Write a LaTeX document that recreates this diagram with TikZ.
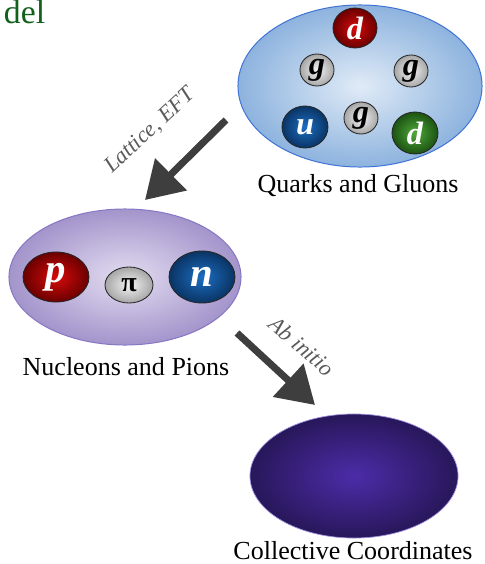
\documentclass[tikz,border=0pt]{standalone}
\usepackage{fontspec}
\setmainfont{Liberation Serif}
\usepackage{tikz}
\usetikzlibrary{arrows.meta,shapes.geometric}
\definecolor{TitleGreen}{HTML}{12601A}
\definecolor{QBorder}{HTML}{3F72D6}
\definecolor{QIn}{HTML}{E0EBF7}
\definecolor{QOut}{HTML}{8DB3DE}
\definecolor{NBorder}{HTML}{8676C4}
\definecolor{NIn}{HTML}{E4DDF1}
\definecolor{NOut}{HTML}{A394CB}
\definecolor{CBorder}{HTML}{A090E0}
\definecolor{CIn}{HTML}{4C2CA8}
\definecolor{COut}{HTML}{28175A}
\definecolor{RedIn}{HTML}{D80A0A}
\definecolor{RedOut}{HTML}{6A0000}
\definecolor{BlueIn}{HTML}{1C6EC2}
\definecolor{BlueOut}{HTML}{0A3464}
\definecolor{GreenIn}{HTML}{4EAA3A}
\definecolor{GreenOut}{HTML}{1C5212}
\definecolor{GluIn}{HTML}{F4F4F4}
\definecolor{GluOut}{HTML}{A6A6A6}
\definecolor{ArrowGray}{HTML}{3E3E3E}
\definecolor{ViaGray}{HTML}{5A5A5A}

\begin{document}
\begin{tikzpicture}[x=0.025cm,y=-0.025cm,
  bag/.style={ellipse,line width=0.7pt,inner sep=0pt},
  ball/.style={ellipse,draw=black!85,line width=0.6pt,inner sep=0pt,text=white,
    font=\fontsize{23}{23}\selectfont\bfseries\itshape},
  glu/.style={ball,text=black,inner color=GluIn,outer color=GluOut,
    minimum width=0.85cm,minimum height=0.8cm},
  tag/.style={anchor=base,font=\fontsize{18.5}{20}\selectfont},
  via/.style={text=ViaGray,font=\fontsize{16}{18}\selectfont\itshape},
  flow/.style={-{Triangle[length=26pt,width=31pt]},line width=5pt,ArrowGray}]
  \useasboundingbox (0,0) rectangle (485,564);
  \node[anchor=base west,text=TitleGreen,font=\fontsize{24}{24}\selectfont] (title) at (-1,24) {del};

  % quarks and gluons
  \node[bag,draw=QBorder,inner color=QIn,outer color=QOut,minimum width=6.1cm,minimum height=4.05cm] (qg) at (360,86) {};
  \node[ball,inner color=RedIn,outer color=RedOut,minimum width=1.1cm,minimum height=1cm] (qd1) at (355,28) {d};
  \node[glu] (g1) at (317,70) {g};
  \node[glu] (g2) at (411,71) {g};
  \node[glu] (g3) at (361,118) {g};
  \node[ball,inner color=BlueIn,outer color=BlueOut,minimum width=1.15cm,minimum height=1.05cm] (qu) at (305,127) {u};
  \node[ball,inner color=GreenIn,outer color=GreenOut,minimum width=1.15cm,minimum height=1.05cm] (qd2) at (415,133) {d};
  \node[tag] (qg-tag) at (358,192) {Quarks and Gluons};

  % nucleons and pions
  \node[bag,draw=NBorder,inner color=NIn,outer color=NOut,minimum width=5.8cm,minimum height=3.4cm] (np) at (125,277) {};
  \node[ball,inner color=RedIn,outer color=RedOut,minimum width=1.65cm,minimum height=1.25cm,
    font=\fontsize{29}{29}\selectfont\bfseries\itshape] (p) at (56,277) {p};
  \node[ball,text=black,inner color=GluIn,outer color=GluOut,minimum width=1.2cm,minimum height=0.9cm,
    font=\fontsize{20}{20}\selectfont\bfseries] (pi) at (129,285) {π};
  \node[ball,inner color=BlueIn,outer color=BlueOut,minimum width=1.65cm,minimum height=1.3cm,
    font=\fontsize{29}{29}\selectfont\bfseries\itshape] (n) at (202,277) {n};
  \node[tag] (np-tag) at (126,375) {Nucleons and Pions};

  % collective coordinates
  \node[bag,draw=CBorder,line width=0.5pt,inner color=CIn,outer color=COut,minimum width=5.2cm,minimum height=3.1cm] (cc) at (354,476) {};
  \node[tag] (cc-tag) at (353,559) {Collective Coordinates};

  % arrows
  \coordinate (lat-a) at (226,120);
  \coordinate (lat-b) at (145,200);
  \draw[flow] (lat-a) -- (lat-b);
  \node[via,rotate=43] (lat) at (150,131) {Lattice, EFT};
  \coordinate (abi-a) at (237,333);
  \coordinate (abi-b) at (315,405);
  \draw[flow] (abi-a) -- (abi-b);
  \node[via,rotate=-41] (abi) at (302,346) {Ab initio};
\end{tikzpicture}
\end{document}
